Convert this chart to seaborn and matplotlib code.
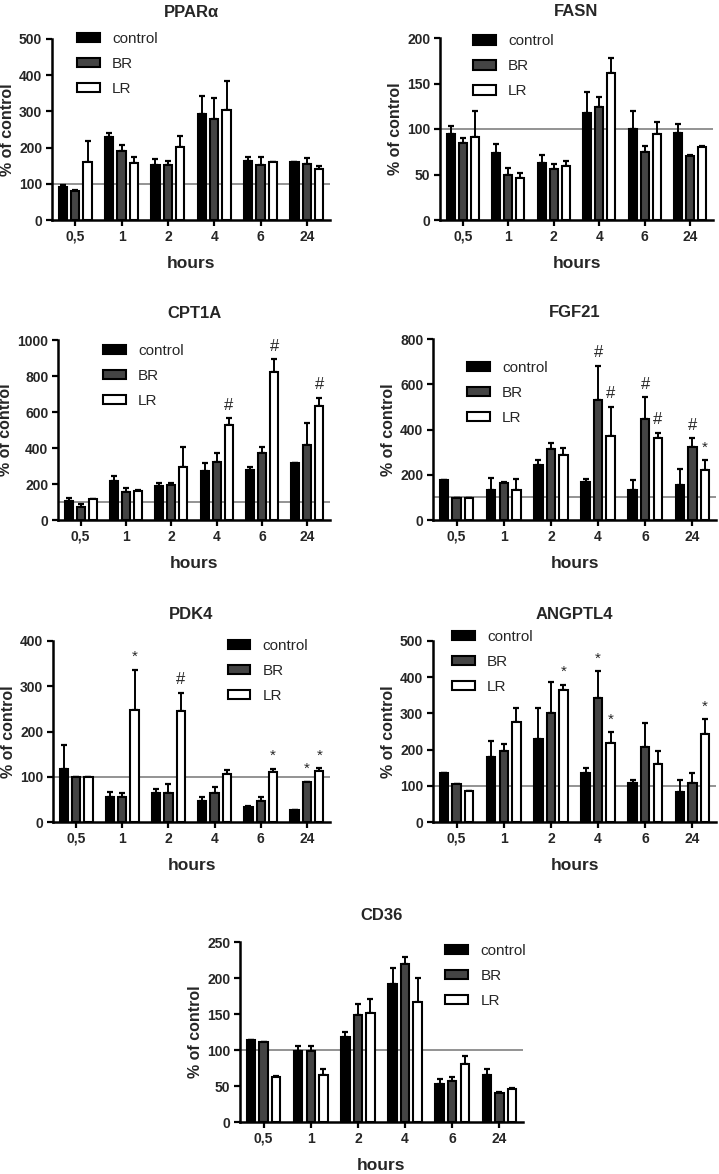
import numpy as np
import pandas as pd
import seaborn as sns
import matplotlib.pyplot as plt
from matplotlib.patches import Patch

hours = ['0,5', '1', '2', '4', '6', '24']
groups = ['control', 'BR', 'LR']
bar_colors = {'control': '#000000', 'BR': '#444444', 'LR': '#ffffff'}

# rows: control, BR, LR  (mean % of control, and SEM)
ppara_mean = [[92, 228, 153, 292, 164, 159], [80, 190, 153, 278, 151, 155], [159, 157, 202, 304, 159, 141]]
ppara_sem = [[6, 13, 16, 51, 9, 1], [2, 18, 11, 59, 22, 16], [58, 16, 29, 80, 1, 7]]

fasn_mean = [[95, 74, 63, 118, 100, 96], [85, 49, 56, 124, 75, 70], [91, 46, 59, 162, 94, 80]]
fasn_sem = [[8, 10, 8, 23, 20, 10], [5, 8, 5, 11, 6, 1], [29, 6, 6, 16, 14, 1]]

cpt1a_mean = [[108, 218, 189, 274, 278, 315], [72, 156, 194, 324, 370, 417], [115, 159, 296, 528, 824, 635]]
cpt1a_sem = [[12, 26, 18, 45, 18, 2], [19, 24, 10, 46, 37, 120], [2, 8, 111, 37, 70, 45]]

fgf21_mean = [[176, 132, 244, 167, 132, 154], [97, 164, 314, 529, 445, 322], [97, 132, 288, 373, 361, 220]]
fgf21_sem = [[0, 52, 19, 14, 43, 72], [0, 5, 28, 152, 98, 39], [0, 49, 32, 128, 25, 44]]

pdk4_mean = [[118, 55, 63, 46, 33, 26], [99, 55, 64, 64, 46, 88], [99, 247, 246, 107, 110, 112]]
pdk4_sem = [[53, 11, 9, 9, 2, 1], [0, 8, 19, 13, 9, 1.5], [0, 90, 40, 7, 8, 7]]

angptl4_mean = [[134, 180, 228, 135, 108, 83], [104, 195, 302, 343, 207, 109], [87, 276, 366, 218, 159, 244]]
angptl4_sem = [[0, 43, 88, 14, 9, 32], [0, 21, 85, 73, 66, 25], [0, 39, 13, 31, 36, 40]]

cd36_mean = [[114, 99, 118, 192, 53, 65], [111, 99, 148, 220, 57, 40], [62, 65, 152, 166, 80, 46]]
cd36_sem = [[0, 7, 7, 22, 7, 8], [0, 7, 16, 9, 6, 2], [2.5, 8, 19, 34, 12, 1]]

# significance marks: (group, hour index, symbol)
cpt1a_marks = [('LR', 3, '#'), ('LR', 4, '#'), ('LR', 5, '#')]
fgf21_marks = [('BR', 3, '#'), ('LR', 3, '#'), ('BR', 4, '#'), ('LR', 4, '#'), ('BR', 5, '#'), ('LR', 5, '*')]
pdk4_marks = [('LR', 1, '*'), ('LR', 2, '#'), ('LR', 4, '*'), ('BR', 5, '*'), ('LR', 5, '*')]
angptl4_marks = [('LR', 2, '*'), ('BR', 3, '*'), ('LR', 3, '*'), ('LR', 5, '*')]

sns.set_style('ticks')
plt.rcParams['font.family'] = ['Liberation Sans', 'DejaVu Sans']

W, H = 719, 1174
fig = plt.figure(figsize=(W / 100, H / 100), dpi=100)


def to_rect(x0, x1, ytop, ybot):
    return [x0 / W, 1 - ybot / H, (x1 - x0) / W, (ybot - ytop) / H]


panels = [
    dict(title='PPARα', mean=ppara_mean, sem=ppara_sem, marks=[], ymax=500, step=100,
         rect=to_rect(52, 330, 39, 220), leg=(0.09, 1.04)),
    dict(title='FASN', mean=fasn_mean, sem=fasn_sem, marks=[], ymax=200, step=50,
         rect=to_rect(440, 713, 38, 220), leg=(0.12, 1.02)),
    dict(title='CPT1A', mean=cpt1a_mean, sem=cpt1a_sem, marks=cpt1a_marks, ymax=1000, step=200,
         rect=to_rect(58, 330, 340, 520), leg=(0.165, 0.98)),
    dict(title='FGF21', mean=fgf21_mean, sem=fgf21_sem, marks=fgf21_marks, ymax=800, step=200,
         rect=to_rect(433, 716, 339, 520), leg=(0.12, 0.88)),
    dict(title='PDK4', mean=pdk4_mean, sem=pdk4_sem, marks=pdk4_marks, ymax=400, step=100,
         rect=to_rect(53, 330, 641, 822), leg=(0.63, 1.01)),
    dict(title='ANGPTL4', mean=angptl4_mean, sem=angptl4_sem, marks=angptl4_marks, ymax=500, step=100,
         rect=to_rect(433, 716, 641, 822), leg=(0.067, 1.06)),
    dict(title='CD36', mean=cd36_mean, sem=cd36_sem, marks=[], ymax=250, step=50,
         rect=to_rect(240, 523, 942, 1122), leg=(0.725, 0.99)),
]

for p in panels:
    ax = fig.add_axes(p['rect'])
    df = pd.DataFrame({
        'hours': np.tile(hours, len(groups)),
        'group': np.repeat(groups, len(hours)),
        'value': np.ravel(p['mean']),
    })
    sns.barplot(data=df, x='hours', y='value', hue='group', order=hours, hue_order=groups,
                palette=bar_colors, saturation=1, errorbar=None, gap=0.33,
                edgecolor='black', linewidth=1.5, legend=False, zorder=2, ax=ax)

    # upper SEM whiskers, positioned from the drawn bars
    tops = {}
    for g, cont, err in zip(groups, ax.containers, p['sem']):
        xs = np.array([b.get_x() + b.get_width() / 2 for b in cont])
        ys = np.array([b.get_height() for b in cont])
        err = np.array(err, dtype=float)
        ax.errorbar(xs, ys, yerr=[np.zeros_like(err), err], fmt='none', ecolor='black',
                    elinewidth=1.4, capsize=2.3, capthick=1.6, zorder=1.5)
        tops[g] = (xs, ys + err)

    for g, i, sym in p['marks']:
        xs, ys = tops[g]
        size = 12 if sym == '#' else 11
        ax.annotate(sym, xy=(xs[i], ys[i]), xytext=(0, 4), textcoords='offset points',
                    ha='center', va='bottom', fontsize=size, annotation_clip=False)

    ax.axhline(100, color='#808080', lw=1.2, zorder=1)
    ax.set_ylim(0, p['ymax'])
    ax.set_xlim(-0.5, len(hours) - 0.5)
    ax.set_yticks(np.arange(0, p['ymax'] + 1, p['step']))
    ax.set_title(p['title'], fontsize=12, fontweight='bold', pad=16)
    ax.set_xlabel('hours', fontsize=12.5, fontweight='bold', labelpad=9)
    ax.set_ylabel('% of control', fontsize=11.5, fontweight='bold', labelpad=3)
    for lab in ax.get_xticklabels() + ax.get_yticklabels():
        lab.set_fontweight('bold')
    ax.tick_params(axis='both', labelsize=10, width=1.6, length=4, color='black', pad=3)
    sns.despine(ax=ax)
    for s in ('left', 'bottom'):
        ax.spines[s].set_linewidth(1.8)
        ax.spines[s].set_color('black')

    handles = [Patch(facecolor=bar_colors[g], edgecolor='black', linewidth=1.5, label=g) for g in groups]
    ax.legend(handles=handles, loc='upper left', bbox_to_anchor=p['leg'], frameon=False,
              fontsize=11, borderpad=0, borderaxespad=0, handlelength=1.5, handleheight=0.55,
              handletextpad=0.8, labelspacing=0.72)

fig.savefig('out.png', dpi=100, facecolor='white')
